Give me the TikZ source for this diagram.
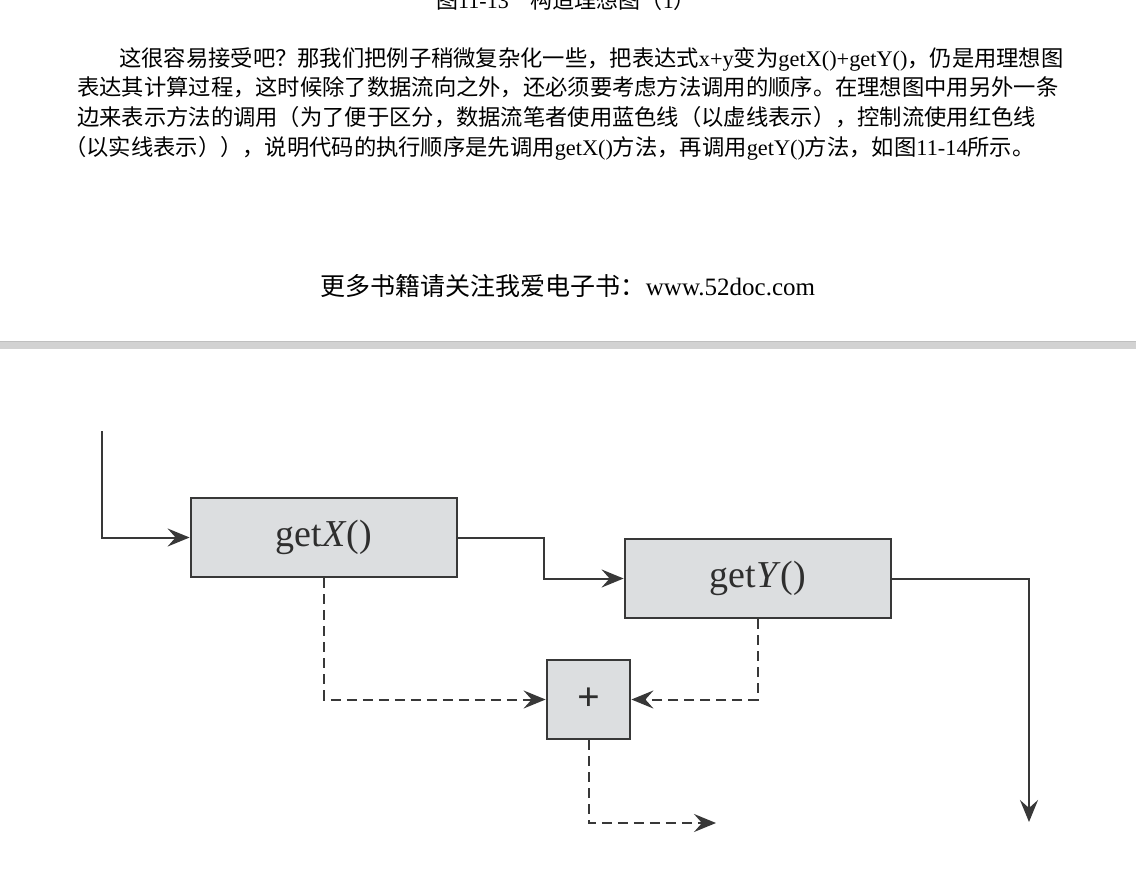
\documentclass[tikz,border=0pt]{standalone}
\usepackage{fontspec}
\setmainfont{Liberation Serif}
\newfontfamily\cjk{Noto Sans CJK SC}
\usetikzlibrary{arrows.meta}
\definecolor{ln}{HTML}{383838}
\definecolor{boxfill}{HTML}{DCDEE0}
\definecolor{barc}{HTML}{D2D2D2}
\newcommand\lat[1]{{\rmfamily #1}}
\begin{document}
\begin{tikzpicture}[x=1pt,y=-1pt,
  ptext/.style={anchor=base west, inner sep=0pt, font=\cjk\fontsize{22.3}{26}\selectfont},
  box/.style={draw=ln, line width=2.8pt, fill=boxfill, inner sep=0pt, text=black!82, font=\fontsize{38}{40}\selectfont},
  conn/.style={draw=ln, line width=2pt, -{Stealth[length=22pt,width=18pt,inset=8pt]}},
  dconn/.style={conn, dash pattern=on 10pt off 6pt}]
\useasboundingbox (0,0) rectangle (1136,870);
\clip (0,0) rectangle (1136,870);
\fill[white] (0,0) rectangle (1136,870);
% caption (cut off at top)
\node[font=\cjk\fontsize{22}{26}\selectfont, anchor=base, inner sep=0pt] (cap) at (566,9) {图\lat{11-13}　构造理想图（\lat{1}）};
% paragraph
\node[ptext] (p1) at (119,66.5) {这很容易接受吧？那我们把例子稍微复杂化一些，把表达式\lat{x+y}变为\lat{getX()+getY()}，仍是用理想图};
\node[ptext] (p2) at (77,95.5) {表达其计算过程，这时候除了数据流向之外，还必须要考虑方法调用的顺序。在理想图中用另外一条};
\node[ptext] (p3) at (77,125.5) {边来表示方法的调用（为了便于区分，数据流笔者使用蓝色线（以虚线表示），控制流使用红色线};
\node[ptext] (p4) at (64,155.5) {（以实线表示）），说明代码的执行顺序是先调用\lat{getX()}方法，再调用\lat{getY()}方法，如图\lat{11-14}所示。};
% footer
\node[font=\cjk\fontsize{25}{30}\selectfont, anchor=base, inner sep=0pt] (foot) at (568,295) {更多书籍请关注我爱电子书：\lat{www.52doc.com}};
% separator bar
\fill[barc] (0,341) rectangle (1136,349);
\draw[black!25, line width=1pt] (0,341.5) -- (1136,341.5);
% diagram
\node[box, minimum width=266pt, minimum height=79pt] (gx) at (324,537.5) {get\textit{X}()};
\node[box, minimum width=266pt, minimum height=79pt] (gy) at (758,578.5) {get\textit{Y}()};
\node[box, minimum width=83pt, minimum height=79pt, font=\bfseries\fontsize{40}{42}\selectfont] (pl) at (588.5,699.5) {+};
\coordinate (in0) at (102,431);
\draw[conn] (in0) |- (gx.west);
\coordinate (m1) at (544,560);
\draw[conn] (gx.east) -| (m1) |- (gy.west);
\coordinate (o1) at (1029,822);
\draw[conn] (gy.east) -| (o1);
\draw[dconn] (gx.south) |- (pl.west);
\draw[dconn] (gy.south) |- (pl.east);
\coordinate (o2) at (716,823);
\draw[dconn] (pl.south) |- (o2);
\end{tikzpicture}
\end{document}
